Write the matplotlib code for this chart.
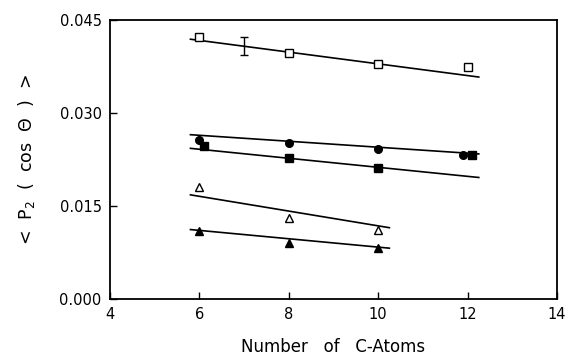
import matplotlib
matplotlib.use('Agg')
import matplotlib.pyplot as plt

# data
x_open_sq = [6, 8, 10, 12]
y_open_sq = [0.0422, 0.0397, 0.0379, 0.0374]
x_circ = [6, 8, 10, 11.9]
y_circ = [0.0257, 0.0252, 0.0242, 0.0233]
x_fill_sq = [6.1, 8, 10, 12.1]
y_fill_sq = [0.0247, 0.0227, 0.0212, 0.0233]
x_open_tri = [6, 8, 10]
y_open_tri = [0.0180, 0.0130, 0.0111]
x_fill_tri = [6, 8, 10]
y_fill_tri = [0.0110, 0.0091, 0.0082]

# fitted lines (end points)
fit_long_x = [5.8, 12.25]
fit_open_sq = [0.0419, 0.0358]
fit_circ = [0.0265, 0.0234]
fit_fill_sq = [0.0243, 0.0196]
fit_short_x = [5.8, 10.25]
fit_open_tri = [0.0168, 0.0115]
fit_fill_tri = [0.0112, 0.0082]

# error bar
err_x = [7.0]
err_y = [0.0408]
err_dy = [0.0014]

fig = plt.figure(figsize=(5.74, 3.63), dpi=100)
ax = fig.add_axes([0.1916, 0.1763, 0.7788, 0.7686])

lw = 1.2
ax.plot(fit_long_x, fit_open_sq, color='black', lw=lw)
ax.plot(fit_long_x, fit_circ, color='black', lw=lw)
ax.plot(fit_long_x, fit_fill_sq, color='black', lw=lw)
ax.plot(fit_short_x, fit_open_tri, color='black', lw=lw)
ax.plot(fit_short_x, fit_fill_tri, color='black', lw=lw)

ax.plot(x_open_sq, y_open_sq, 's', ms=5.5, mfc='white', mec='black', mew=1.0)
ax.plot(x_circ, y_circ, 'o', ms=5.5, mfc='black', mec='black')
ax.plot(x_fill_sq, y_fill_sq, 's', ms=5.5, mfc='black', mec='black')
ax.plot(x_open_tri, y_open_tri, '^', ms=5.5, mfc='white', mec='black', mew=1.0)
ax.plot(x_fill_tri, y_fill_tri, '^', ms=5.5, mfc='black', mec='black')

ax.errorbar(err_x, err_y, yerr=err_dy, fmt='none', ecolor='black', elinewidth=1.0, capsize=3, capthick=1.0)

ax.set_xlim(4, 14)
ax.set_ylim(0, 0.045)
ax.set_xticks([4, 6, 8, 10, 12, 14])
ax.set_yticks([0.0, 0.015, 0.030, 0.045])
ax.set_yticklabels(['0.000', '0.015', '0.030', '0.045'])
ax.tick_params(direction='in', length=5, width=1.0, labelsize=10.5, pad=6)

for s in ax.spines.values():
    s.set_linewidth(1.3)

ax.set_xlabel('Number   of   C-Atoms', fontsize=12, labelpad=11)
ax.set_ylabel(r'<  P$_2$  (  cos  $\Theta$  )  >', fontsize=12.5, labelpad=16)

fig.savefig('out.png', dpi=100)
